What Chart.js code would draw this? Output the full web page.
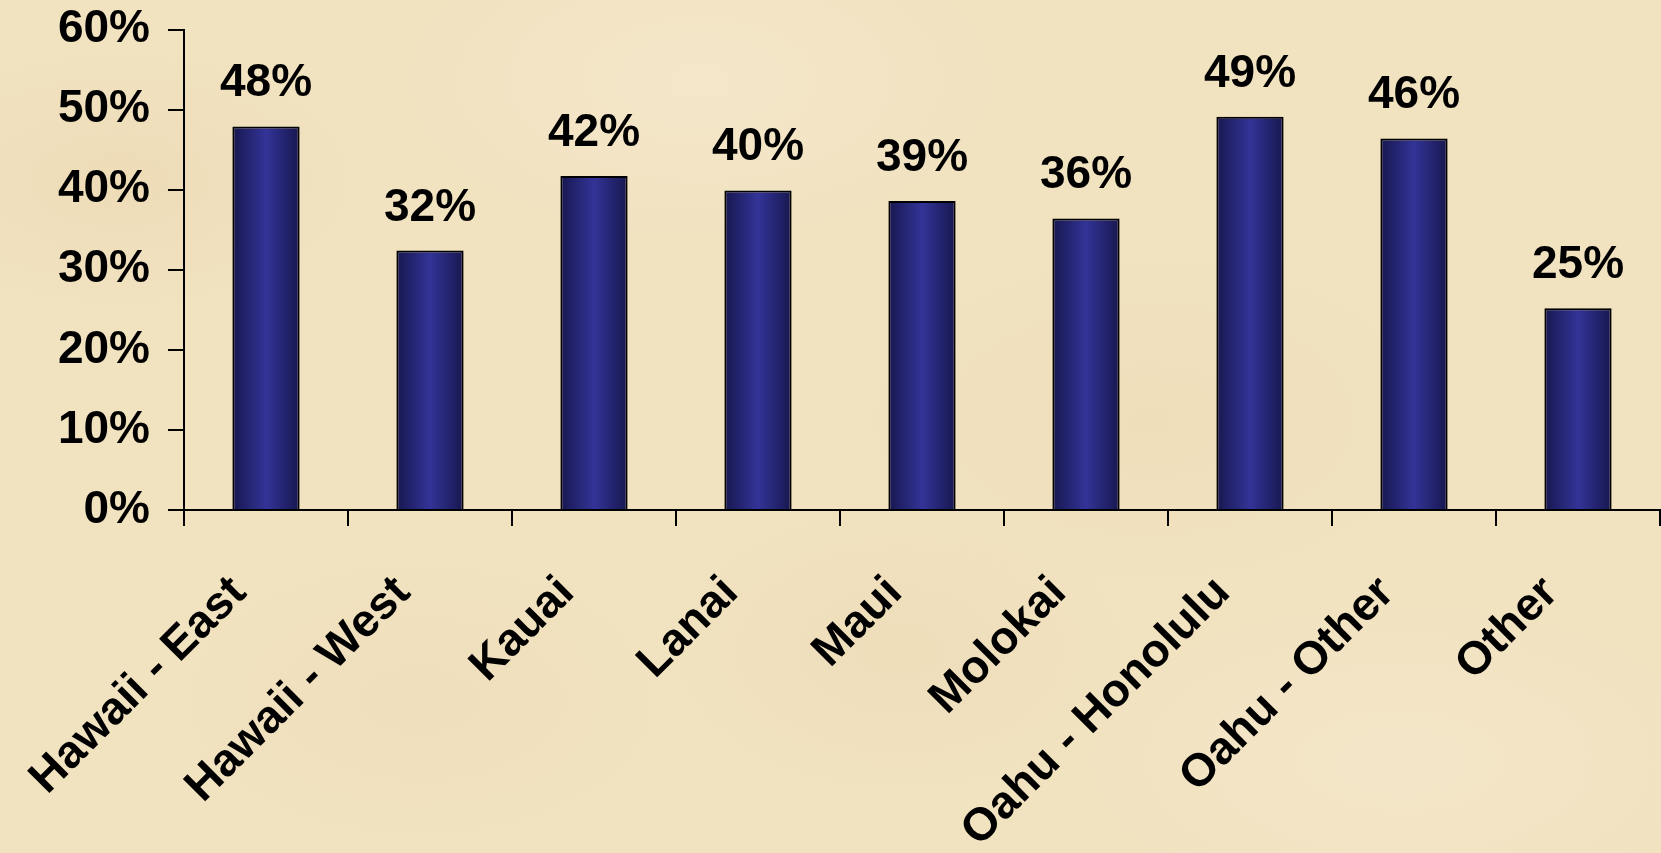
<!DOCTYPE html>
<html>
<head>
<meta charset="utf-8">
<title>Share by region</title>
<script src="https://cdn.jsdelivr.net/npm/chart.js@4.4.1/dist/chart.umd.min.js"></script>
<style>
    html, body { margin: 0; padding: 0; }
    body {
        width: 1661px;
        height: 853px;
        overflow: hidden;
        background-color: #f1e2c0;
        background-image:
            radial-gradient(ellipse 240px 130px at 120px 180px, rgba(232, 208, 166, 0.35), transparent),
            radial-gradient(ellipse 300px 160px at 700px 80px, rgba(247, 236, 212, 0.5), transparent),
            radial-gradient(ellipse 300px 170px at 1150px 420px, rgba(234, 212, 170, 0.3), transparent),
            radial-gradient(ellipse 260px 150px at 420px 700px, rgba(236, 214, 176, 0.3), transparent),
            radial-gradient(ellipse 320px 160px at 1400px 760px, rgba(247, 236, 212, 0.45), transparent),
            radial-gradient(ellipse 240px 150px at 900px 650px, rgba(234, 210, 170, 0.3), transparent);
    }
    #chart { display: block; }
</style>
</head>
<body>
<canvas id="chart" width="1661" height="853"></canvas>
<script>
// categories and values (percent)
const regions = ["Hawaii - East", "Hawaii - West", "Kauai", "Lanai", "Maui",
                 "Molokai", "Oahu - Honolulu", "Oahu - Other", "Other"];
const shares = [47.9, 32.4, 41.7, 39.9, 38.6, 36.4, 49.1, 46.4, 25.2];
const yMax = 60;
const yStep = 10;

const FONT = { family: "'Liberation Sans', Arial, sans-serif", size: 46, weight: 'bold' };
const BAR_PCT = 0.41;

// horizontal shading on each bar, built from the x scale
function barFill(ctx) {
    const chart = ctx.chart;
    const x = chart.scales.x;
    if (!x || !chart.chartArea) return '#2e2e8c';
    const center = x.getPixelForValue(ctx.dataIndex);
    const half = (x.width / regions.length) * BAR_PCT / 2;
    const g = chart.ctx.createLinearGradient(center - half, 0, center + half, 0);
    g.addColorStop(0, '#17174f');
    g.addColorStop(0.5, '#333398');
    g.addColorStop(1, '#17174f');
    return g;
}

const valueLabels = {
    id: 'valueLabels',
    afterDatasetsDraw(chart) {
        const c = chart.ctx;
        const meta = chart.getDatasetMeta(0);
        c.save();
        c.font = `${FONT.weight} ${FONT.size}px ${FONT.family}`;
        c.fillStyle = '#000';
        c.textAlign = 'center';
        c.textBaseline = 'alphabetic';
        meta.data.forEach((bar, i) => {
            c.fillText(Math.round(shares[i]) + '%', bar.x, bar.y - 30);
        });
        c.restore();
    }
};

new Chart(document.getElementById('chart'), {
    type: 'bar',
    data: {
        labels: regions,
        datasets: [{
            data: shares,
            backgroundColor: barFill,
            borderColor: '#000',
            borderWidth: 2,
            borderSkipped: 'bottom',
            barPercentage: BAR_PCT,
            categoryPercentage: 1.0
        }]
    },
    options: {
        responsive: false,
        animation: false,
        layout: { padding: { top: 0, right: 1, left: 0, bottom: 0 } },
        plugins: {
            legend: { display: false },
            tooltip: { enabled: false }
        },
        scales: {
            x: {
                grid: {
                    offset: true,
                    drawOnChartArea: false,
                    drawTicks: true,
                    tickLength: 16,
                    color: '#000',
                    lineWidth: 2
                },
                border: { display: true, color: '#000', width: 2 },
                ticks: {
                    color: '#000',
                    font: FONT,
                    minRotation: 45,
                    maxRotation: 45,
                    autoSkip: false,
                    padding: 40,
                    labelOffset: -27
                },
                afterFit(scale) { scale.height = 343; }
            },
            y: {
                min: 0,
                max: yMax,
                grid: {
                    drawOnChartArea: false,
                    drawTicks: true,
                    tickLength: 16,
                    color: '#000',
                    lineWidth: 2
                },
                border: { display: true, color: '#000', width: 2 },
                ticks: {
                    stepSize: yStep,
                    color: '#000',
                    font: FONT,
                    padding: 18,
                    callback: v => v + '%'
                },
                afterFit(scale) {
                    scale.width = 184;
                    scale.paddingTop = 29.5;   // puts 60% where the reference has it
                }
            }
        }
    },
    plugins: [valueLabels]
});
</script>
</body>
</html>
